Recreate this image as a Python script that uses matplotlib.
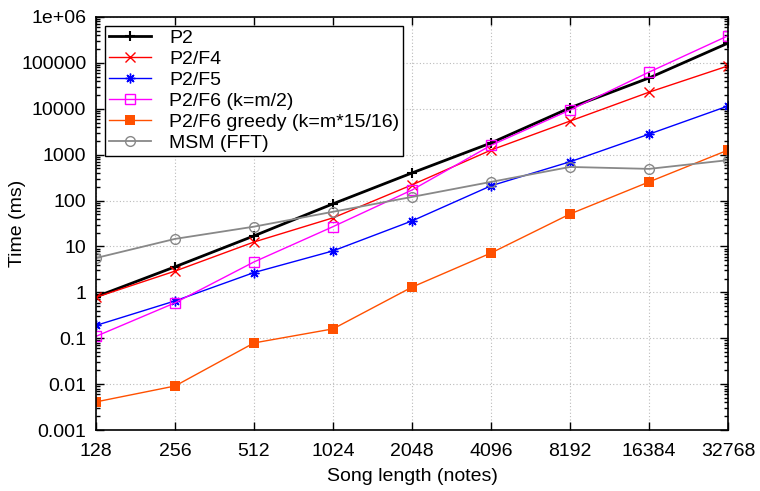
import matplotlib
matplotlib.use("Agg")
import matplotlib.pyplot as plt
from matplotlib.ticker import FixedLocator, LogLocator, NullFormatter, NullLocator

plt.rcParams['font.family'] = ['Liberation Sans', 'DejaVu Sans']

# song lengths (notes)
lengths = [128, 256, 512, 1024, 2048, 4096, 8192, 16384, 32768]

# running times (ms)
p2 = [0.8, 3.6, 17, 85, 400, 1800, 10500, 47000, 270000]
p2_f4 = [0.78, 2.9, 12.5, 42, 220, 1260, 5400, 23000, 86000]
p2_f5 = [0.19, 0.65, 2.7, 8, 36, 210, 700, 2800, 11500]
p2_f6 = [0.11, 0.59, 4.6, 27, 170, 1600, 9400, 63000, 390000]
p2_f6_greedy = [0.0041, 0.0091, 0.079, 0.16, 1.3, 7.2, 51, 255, 1260]
msm_fft = [5.6, 14.6, 27, 57, 120, 255, 540, 490, 760]

y_ticks = [0.001, 0.01, 0.1, 1, 10, 100, 1000, 10000, 100000, 1e6]
y_labels = ["0.001", "0.01", "0.1", "1", "10", "100", "1000", "10000", "100000", "1e+06"]

fig = plt.figure(figsize=(7.6, 4.91), dpi=100)
ax = fig.add_axes([0.1263, 0.1242, 0.8317, 0.8412])

ax.plot(lengths, p2, color="black", lw=2, marker="+", ms=7, mew=1.5, label="P2")
ax.plot(lengths, p2_f4, color="#ff0000", lw=1, marker="x", ms=7, mew=1, label="P2/F4")
ax.plot(lengths, p2_f5, color="#0000ff", lw=1, marker=(8, 2, 0), ms=7, mew=1, label="P2/F5")
ax.plot(lengths, p2_f6, color="#ff00ff", lw=1, marker="s", ms=7, mfc="none", mew=1,
        label="P2/F6 (k=m/2)")
ax.plot(lengths, p2_f6_greedy, color="#ff5000", lw=1, marker="s", ms=6.5, mew=0,
        label="P2/F6 greedy (k=m*15/16)")
ax.plot(lengths, msm_fft, color="#888888", lw=1.3, marker="o", ms=7, mfc="none", mew=1,
        label="MSM (FFT)")

ax.set_xscale("log", base=2)
ax.set_yscale("log")
ax.set_xlim(128, 32768)
ax.set_ylim(0.001, 1e6)

ax.xaxis.set_major_locator(FixedLocator(lengths))
ax.set_xticklabels([str(v) for v in lengths])
ax.xaxis.set_minor_locator(NullLocator())
ax.yaxis.set_major_locator(FixedLocator(y_ticks))
ax.set_yticklabels(y_labels)
ax.yaxis.set_minor_locator(LogLocator(base=10, subs=range(2, 10), numticks=20))
ax.yaxis.set_minor_formatter(NullFormatter())

ax.tick_params(which="both", direction="in", top=True, right=True, labelsize=14)
ax.tick_params(axis="x", pad=9)
ax.tick_params(axis="y", pad=7)
ax.tick_params(which="major", length=6, width=1)
ax.tick_params(which="minor", length=3, width=1)

ax.grid(True, which="major", color="#bbbbbb", linestyle=(0, (1, 2)), lw=0.8)
for s in ax.spines.values():
    s.set_linewidth(1.2)

ax.set_xlabel("Song length (notes)", fontsize=14, labelpad=6)
ax.set_ylabel("Time (ms)", fontsize=14)
ax.yaxis.set_label_coords(-0.11, 0.5)

leg = ax.legend(loc="upper left", fontsize=14, frameon=True, fancybox=False,
                edgecolor="black", framealpha=1, borderpad=0.2, labelspacing=0.17,
                handlelength=2.2, borderaxespad=0.45, handletextpad=0.9)
leg.get_frame().set_linewidth(1)

fig.savefig("out.png", dpi=100)
